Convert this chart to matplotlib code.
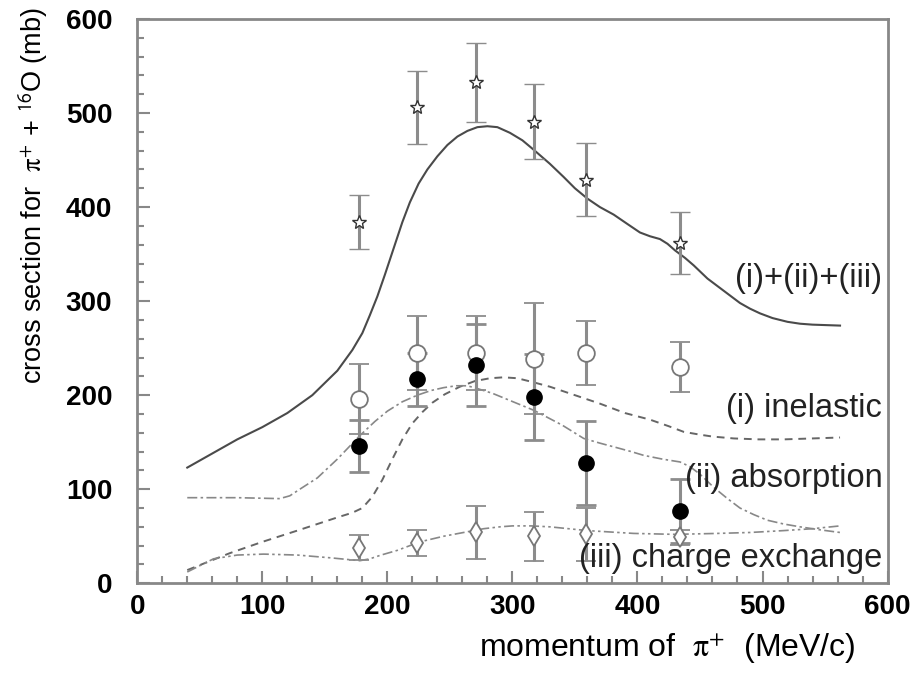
import numpy as np
import matplotlib.pyplot as plt
from matplotlib.ticker import MultipleLocator

plt.rcParams['font.family'] = ['Liberation Sans', 'DejaVu Sans']
plt.rcParams['mathtext.fontset'] = 'stix'

# %% data
p_data = [177, 224, 271, 317, 359, 434]

total = [384, 506, 533, 491, 429, 362]
total_err = [29, 39, 42, 40, 39, 33]

inelastic = [196, 245, 245, 239, 245, 230]
inelastic_err = [37, 39, 39, 59, 34, 27]

absorption = [146, 217, 232, 198, 128, 77]
absorption_err = [28, 28, 44, 46, 45, 34]

chexch = [38, 43, 54, 50, 52, 49]
chexch_err = [13, 14, 28, 26, 28, 8]

# theory curves
p_tot = [40, 60, 80, 100, 120, 140, 160, 172, 180, 186, 192, 198, 206, 212,
         218, 225, 232, 240, 248, 256, 264, 272, 280, 288, 298, 308, 317, 330,
         341, 350, 360, 370, 381, 392, 402, 410, 418, 424, 430, 438, 445, 456,
         464, 472, 482, 490, 498, 508, 520, 530, 540, 562]
c_tot = [123, 138, 153, 166, 181, 200, 226, 248, 266, 285, 305, 328, 360, 384,
         405, 425, 440, 454, 466, 475, 481, 485, 486, 485, 479, 471, 461, 446,
         432, 420, 409, 400, 392, 382, 373, 369, 366, 361, 354, 346, 338, 324,
         316, 308, 298, 292, 287, 282, 278, 276, 275, 274]

p_inel = [40, 74, 100, 128, 160, 172, 180, 188, 196, 204, 212, 220, 228, 236,
          246, 258, 270, 282, 293, 304, 316, 330, 350, 370, 390, 410, 425,
          437, 450, 460, 477, 497, 517, 540, 562]
c_inel = [14, 32, 44, 56, 70, 75, 80, 92, 110, 132, 153, 170, 182, 192,
          201, 209, 215, 218, 219, 218, 214, 209, 200, 191, 181, 174, 167,
          161, 158, 156, 154, 153, 153, 154, 155]

p_abs = [40, 80, 114, 122, 130, 144, 160, 178, 190, 200, 212, 224, 235, 245,
         255, 264, 272, 284, 295, 306, 317, 330, 340, 357, 370, 384, 395, 405,
         420, 434, 442, 450, 461, 472, 482, 493, 504, 517, 530, 545, 562]
c_abs = [91, 91, 90, 93, 100, 112, 132, 157, 172, 183, 193, 200, 205, 208,
         210, 210, 207, 202, 196, 190, 184, 175, 168, 154, 149, 144, 140, 136,
         132, 129, 124, 116, 102, 90, 80, 73, 67, 63, 60, 57, 54]

p_cx = [40, 61, 80, 101, 128, 155, 178, 186, 195, 208, 226, 245, 261, 277,
        290, 300, 315, 330, 360, 397, 430, 464, 490, 517, 540, 562]
c_cx = [12, 26, 30, 31, 30, 27, 24, 26, 30, 35, 44, 50, 54, 58,
        60, 61, 61, 60, 56, 53, 52, 53, 54, 56, 58, 61]

# %% plot
fig = plt.figure(figsize=(9.15, 6.79), dpi=100)
ax = fig.add_axes([0.150, 0.141, 0.820, 0.831])

ax.plot(p_tot, c_tot, '-', color='#4a4a4a', lw=1.5, solid_joinstyle='round')
ax.plot(p_inel, c_inel, color='#666666', lw=1.4, dashes=(4, 3))
ax.plot(p_abs, c_abs, color='#888888', lw=1.2, dashes=(6, 2, 1.5, 2))
ax.plot(p_cx, c_cx, color='#888888', lw=1.2, dashes=(6, 2, 1.5, 2, 1.5, 2))

ebkw = dict(ls='none', ecolor='#8c8c8c', elinewidth=2.2, capsize=7, capthick=2)
ax.errorbar(p_data, inelastic, yerr=inelastic_err, fmt='o', ms=12,
            mfc='white', mec='#777777', mew=1.3, **ebkw)
ax.errorbar(p_data, absorption, yerr=absorption_err, fmt='o', ms=11,
            mfc='black', mec='black', **ebkw)
ax.errorbar(p_data, chexch, yerr=chexch_err, fmt='d', ms=10,
            mfc='white', mec='#777777', mew=1.3, **ebkw)
ax.errorbar(p_data, total, yerr=total_err, fmt='*', ms=10,
            mfc='white', mec='#333333', mew=1.0, **ebkw)

ax.set_xlim(0, 600)
ax.set_ylim(0, 600)
ax.xaxis.set_major_locator(MultipleLocator(100))
ax.xaxis.set_minor_locator(MultipleLocator(20))
ax.yaxis.set_major_locator(MultipleLocator(100))
ax.yaxis.set_minor_locator(MultipleLocator(20))
ax.tick_params(which='both', direction='in', color='#888888', width=1.5,
               top=False, right=False)
ax.tick_params(which='major', length=9, labelsize=20)
ax.tick_params(which='minor', length=5)
ax.tick_params(axis='x', which='major', pad=8)
ax.tick_params(axis='y', which='major', pad=18)
for lab in ax.get_xticklabels() + ax.get_yticklabels():
    lab.set_fontweight('bold')
for sp in ax.spines.values():
    sp.set_color('#888888')
    sp.set_linewidth(2)

ax.set_xlabel(r'momentum of  $\mathrm{\pi}^{+}$  (MeV/c)', fontsize=23)
ax.xaxis.set_label_coords(0.706, -0.085)
ax.set_ylabel(r'cross section for  $\mathrm{\pi}^{+}$ + $^{\mathsf{16}}$O (mb)',
              fontsize=19.5)
ax.yaxis.set_label_coords(-0.116, 0.688)

lab_kw = dict(transform=ax.transAxes, fontsize=23.5, ha='right',
              va='baseline', color='#222222')
ax.text(0.993, 0.525, '(i)+(ii)+(iii)', **lab_kw)
ax.text(0.993, 0.294, '(i) inelastic', **lab_kw)
ax.text(0.993, 0.170, '(ii) absorption', **lab_kw)
ax.text(0.993, 0.028, '(iii) charge exchange', **lab_kw)

fig.savefig('out.png', dpi=100)
